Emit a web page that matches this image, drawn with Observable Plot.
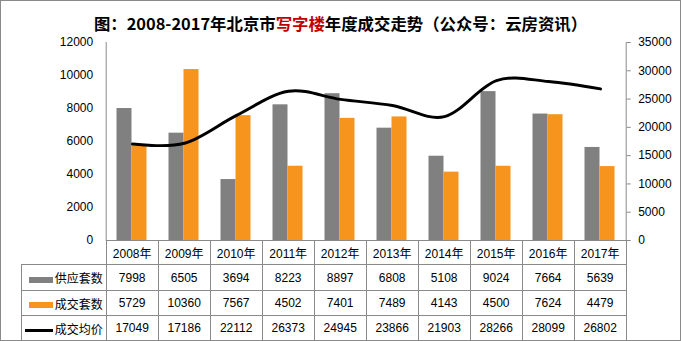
<!DOCTYPE html>
<html>
<head>
<meta charset="utf-8">
<script src="https://cdn.jsdelivr.net/npm/d3@7"></script>
<script src="https://cdn.jsdelivr.net/npm/@observablehq/plot@0.6"></script>
<style>
  body { margin: 0; background: #fff; }
  #wrap { position: relative; width: 681px; height: 341px; overflow: hidden; background: #fff;
          font-family: "Liberation Sans", "Noto Sans CJK SC", sans-serif; }
  #border { position: absolute; left: 0; top: 0; width: 681px; height: 341px; box-sizing: border-box;
            border: 1px solid #8a8a8a; pointer-events: none; }
  #title { position: absolute; left: 0px; top: 13px; width: 681px; height: 20px; line-height: 20px;
           text-align: center; font-size: 16.4px; font-weight: bold; color: #000;
           font-family: "Noto Sans CJK SC", sans-serif; white-space: nowrap; }
  #title .red { color: #c00000; }
  #chart { position: absolute; left: 0; top: 0; }
  #tbl { position: absolute; left: 21px; top: 240px; border-collapse: collapse; table-layout: fixed;
         width: 604.7px; font-size: 12px; color: #000; }
  #tbl td { border: 1px solid #8a8a8a; text-align: center; padding: 0; white-space: nowrap; overflow: hidden; }
  #tbl td.blank { border-top: none; border-left: none; }
  #tbl td.leg { text-align: right; padding-right: 3px; font-family: "Noto Sans CJK SC", sans-serif; }
  .sw { display: inline-block; width: 24px; vertical-align: middle; margin-right: 2px; }
</style>
</head>
<body>
<div id="wrap">
  <div id="title">图：2008-2017年北京市<span class="red">写字楼</span>年度成交走势（公众号：云房资讯）</div>
  <div id="chart"></div>
  <table id="tbl"></table>
  <div id="border"></div>
</div>
<script>
const years = ["2008年","2009年","2010年","2011年","2012年","2013年","2014年","2015年","2016年","2017年"];
const supply = [7998, 6505, 3694, 8223, 8897, 6808, 5108, 9024, 7664, 5639];
const deals  = [5729, 10360, 7567, 4502, 7401, 7489, 4143, 4500, 7624, 4479];
const price  = [17049, 17186, 22112, 26373, 24945, 23866, 21903, 28266, 28099, 26802];
const leftTicks  = [0, 2000, 4000, 6000, 8000, 10000, 12000];
const rightTicks = [0, 5000, 10000, 15000, 20000, 25000, 30000, 35000];
const seriesNames = ["供应套数", "成交套数", "成交均价"];
const seriesColors = ["#808080", "#f7941d", "#000000"];

const leftMax = 12000, rightMax = 35000;
const k = leftMax / rightMax;
const rows = years.map((y, i) => ({year: y, supply: supply[i], deals: deals[i], price: price[i]}));

const chart = Plot.plot({
  width: 681, height: 341,
  marginTop: 42, marginBottom: 101, marginLeft: 105.7, marginRight: 55.3,
  style: {fontFamily: "Liberation Sans, sans-serif", fontSize: "12px", background: "transparent", color: "#000"},
  x: {domain: years, padding: 0, axis: null},
  y: {domain: [0, leftMax], axis: null},
  marks: [
    Plot.barY(rows, {x: "year", y: "supply", fill: seriesColors[0], insetLeft: 10.5, insetRight: 26.5}),
    Plot.barY(rows, {x: "year", y: "deals", fill: seriesColors[1], insetLeft: 25.5, insetRight: 11.5}),
    Plot.line(rows, {x: "year", y: d => d.price * k, stroke: seriesColors[2], strokeWidth: 3, curve: "cardinal"}),
    Plot.axisY({ticks: leftTicks, tickSize: 0, tickPadding: 13, tickFormat: d => String(d), fontSize: 12, label: null}),
    Plot.axisY({anchor: "right", ticks: rightTicks.map(v => v * k), tickSize: 4, tickPadding: 8, stroke: "#8a8a8a",
                tickFormat: d => String(Math.round(d / k)), fontSize: 12, label: null}),
    Plot.frame({anchor: "left", stroke: "#8a8a8a"}),
    Plot.frame({anchor: "right", stroke: "#8a8a8a"})
  ]
});
document.getElementById("chart").appendChild(chart);

// data table below the chart
const tbl = document.getElementById("tbl");
const cg = document.createElement("colgroup");
const c0 = document.createElement("col"); c0.style.width = "84.7px"; cg.appendChild(c0);
years.forEach(() => { const c = document.createElement("col"); c.style.width = "52px"; cg.appendChild(c); });
tbl.appendChild(cg);
const hr = document.createElement("tr"); hr.style.height = "24px";
const blank = document.createElement("td"); blank.className = "blank"; hr.appendChild(blank);
years.forEach(y => { const td = document.createElement("td"); td.textContent = y; hr.appendChild(td); });
tbl.appendChild(hr);
const series = [supply, deals, price];
const rowH = [26, 25, 25];
series.forEach((vals, si) => {
  const tr = document.createElement("tr"); tr.style.height = rowH[si] + "px";
  const lg = document.createElement("td"); lg.className = "leg";
  const sw = document.createElement("span"); sw.className = "sw";
  sw.style.background = seriesColors[si];
  sw.style.height = si === 2 ? "3px" : "6px";
  if (si === 2) sw.style.width = "28px";
  lg.appendChild(sw);
  lg.appendChild(document.createTextNode(seriesNames[si]));
  tr.appendChild(lg);
  vals.forEach(v => { const td = document.createElement("td"); td.textContent = v; tr.appendChild(td); });
  tbl.appendChild(tr);
});
</script>
</body>
</html>
